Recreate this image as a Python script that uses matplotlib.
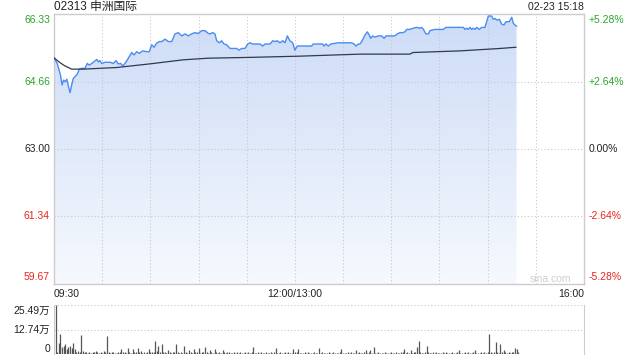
import matplotlib.pyplot as plt
import numpy as np
from matplotlib.colors import LinearSegmentedColormap

plt.rcParams['font.family'] = ['Liberation Sans', 'Noto Sans CJK SC', 'DejaVu Sans']
plt.rcParams['font.size'] = 7.5

# minutes from 09:30 (lunch break removed), price in HKD
price_min = [0, 2, 4, 5, 6, 7, 8, 9, 10, 11, 12, 13, 14.5, 15.8, 17.2, 19.3, 20.7, 22, 23.5,
             24.9, 26.6, 27.6, 28.6, 29.7, 31.8, 34.9, 36.9, 38.6, 40, 41.5, 42.8, 44.2, 46.3,
             48.4, 49.8, 51.5, 53.1, 55.2, 57.7, 59.3, 60.8, 62.3, 63.9, 65.6, 67.1, 69.1, 71.2,
             73.3, 75.3, 77.4, 79.5, 81.6, 83.6, 85.7, 87.8, 89.8, 92, 94, 96.1, 97.1, 98.8,
             100.2, 101.3, 102.9, 104.4, 105.8, 107.5, 109.6, 113.7, 115.2, 116.9, 118.9, 120.6,
             122, 123.7, 128.3, 129.9, 131.4, 134.5, 136.2, 137.6, 139, 140.7, 142.4, 143.8,
             145.3, 146.9, 148.6, 150, 151.5, 153.2, 160.4, 161.4, 167.3, 168.1, 169.3, 170.8,
             172.3, 177, 185.3, 186.8, 188, 189.5, 190.5, 191.6, 193.6, 195.1, 196.3, 197.2,
             198.4, 199.9, 201.9, 204, 205.5, 206.7, 212.3, 213.7, 215.4, 217.1, 218.5, 219.6,
             221.6, 223.7, 225.8, 227.9, 228.9, 230, 231.6, 233.1, 234.1, 237.2, 242.4, 244,
             254.9, 255.9, 256.9, 257.9, 259, 260, 261, 262.1, 263.1, 264.8, 266.3, 268.3, 269.4,
             270.4, 272.5, 273.5, 274.6, 275.6, 277.3, 278.7, 280.2, 281.4, 283.5, 285, 286, 287, 288]
price = [65.25, 65.11, 64.83, 64.58, 64.70, 64.66, 64.72, 64.54, 64.39, 64.58, 64.74, 64.78,
         64.85, 64.97, 64.99, 64.99, 65.11, 65.07, 65.11, 65.15, 65.21, 65.15, 65.18, 65.11,
         65.14, 65.14, 65.11, 65.18, 65.10, 65.11, 65.05, 65.11, 65.24, 65.38, 65.32, 65.40,
         65.36, 65.42, 65.40, 65.40, 65.57, 65.51, 65.61, 65.65, 65.65, 65.71, 65.65, 65.65,
         65.84, 65.87, 65.79, 65.84, 65.79, 65.84, 65.87, 65.85, 65.92, 65.92, 65.85, 65.84,
         65.87, 65.84, 65.67, 65.62, 65.67, 65.59, 65.57, 65.48, 65.48, 65.44, 65.48, 65.48,
         65.59, 65.62, 65.59, 65.59, 65.54, 65.59, 65.59, 65.67, 65.65, 65.67, 65.62, 65.67,
         65.62, 65.79, 65.67, 65.62, 65.44, 65.54, 65.54, 65.54, 65.59, 65.59, 65.54, 65.59,
         65.54, 65.59, 65.62, 65.62, 65.59, 65.54, 65.59, 65.59, 65.65, 65.81, 65.89, 65.81,
         65.73, 65.79, 65.76, 65.79, 65.79, 65.73, 65.79, 65.79, 65.84, 65.87, 65.87, 65.89,
         65.95, 65.95, 65.98, 66.00, 65.98, 66.00, 65.95, 65.84, 65.84, 65.92, 65.95, 65.95,
         66.00, 66.00, 65.95, 65.98, 65.95, 66.00, 65.95, 65.98, 65.95, 66.00, 65.95, 66.00,
         66.00, 66.14, 66.28, 66.28, 66.20, 66.22, 66.18, 66.20, 66.08, 66.06, 66.14, 66.14,
         66.25, 66.10, 66.06, 66.03]

avg_min = [0, 3.7, 6.8, 11, 18.2, 39, 59.8, 80.5, 96, 122, 153, 190.5, 221.6, 223.5, 252.8,
           269.4, 277.7, 287.6]
avg = [65.25, 65.13, 65.05, 64.97, 64.97, 65.01, 65.10, 65.20, 65.24, 65.26, 65.29, 65.34,
       65.34, 65.38, 65.42, 65.46, 65.48, 65.51]

# volume per minute, unit: 万
volume = [25.49, 1.2, 5.7, 10.2, 3.9, 4.4, 5.0, 2.7, 3.5, 4.4, 3.2, 5.7, 2.7, 1.1, 1.4, 0.8, 9.7, 1.6, 0.9, 1.2,
          0.7, 1.0, 0.6, 1.3, 0.8, 1.5, 0.9, 0.7, 1.1, 0.6, 1.4, 0.8, 9.2, 0.9, 0.5, 0.8, 1.2, 0.7, 0.6, 1.0,
          0.8, 2.7, 0.9, 1.3, 0.7, 3.0, 1.0, 0.6, 2.7, 1.1, 0.8, 3.2, 0.9, 1.4, 0.7, 1.0, 0.6, 1.2, 2.7, 0.9,
          1.3, 0.8, 6.9, 1.5, 4.4, 1.0, 5.0, 0.8, 1.2, 0.7, 2.0, 0.9, 0.6, 1.1, 0.8, 5.3, 1.0, 0.7, 1.3, 0.6,
          4.4, 0.9, 0.7, 2.3, 1.0, 0.6, 2.7, 0.8, 1.1, 3.2, 0.7, 0.9, 1.2, 3.9, 0.8, 0.6, 2.3, 1.0, 0.7, 2.7,
          0.8, 0.6, 1.1, 0.7, 2.0, 0.9, 0.5, 0.8, 1.0, 0.6, 0.7, 0.9, 0.5, 1.2, 0.6, 0.8, 0.7, 0.5, 0.9, 0.6,
          0.8, 0.5, 1.0, 3.9, 0.7, 0.6, 0.9, 0.5, 0.8, 0.6, 0.7, 1.1, 0.5, 0.6, 0.8, 0.7, 0.9, 3.2, 0.6, 0.5,
          0.8, 0.7, 0.6, 0.9, 0.5, 1.0, 0.7, 0.6, 2.7, 0.8, 0.9, 2.7, 0.6, 0.7, 0.5, 0.8, 0.6, 1.0, 0.7, 0.5,
          0.6, 0.8, 0.5, 0.7, 3.2, 0.6, 0.9, 0.5, 0.7, 0.6, 0.8, 0.5, 0.6, 0.9, 0.7, 0.5, 0.6, 0.8, 2.7, 0.6,
          0.7, 0.5, 0.9, 0.6, 0.8, 0.5, 0.7, 2.3, 0.6, 0.9, 0.5, 0.7, 1.0, 2.0, 0.6, 0.8, 2.3, 0.7, 3.9, 0.6,
          0.5, 0.8, 0.6, 0.7, 0.5, 0.9, 0.6, 0.7, 0.5, 0.8, 0.6, 0.7, 0.9, 0.5, 0.6, 0.8, 1.1, 2.7, 0.6, 0.8,
          0.7, 2.0, 0.6, 0.9, 1.2, 3.5, 6.7, 0.9, 0.7, 0.6, 1.0, 4.4, 0.8, 0.6, 0.7, 0.9, 0.5, 0.8, 0.6, 0.7,
          0.5, 0.8, 0.6, 0.9, 0.7, 0.5, 0.6, 0.8, 0.7, 0.5, 0.9, 2.3, 0.6, 0.7, 0.5, 0.8, 0.6, 0.9, 0.7, 0.6,
          0.8, 2.3, 0.6, 0.7, 0.5, 0.9, 0.6, 0.8, 0.7, 1.2, 10.3, 0.9, 0.7, 1.0, 6.2, 0.8, 0.6, 5.3, 0.9, 2.0,
          0.8, 0.7, 1.0, 0.6, 0.9, 0.8, 3.2, 2.7, 1.0]

prev_close = 63.00
price_ticks = [66.33, 64.66, 63.00, 61.34, 59.67]
pct_labels = ['+5.28%', '+2.64%', '0.00%', '-2.64%', '-5.28%']
vol_ticks = [0, 12.74, 25.49]
vol_labels = ['0', '12.74万', '25.49万']

green = '#2aa52a'
red = '#e8261e'
grid_c = '#c8c8c8'
spine_c = '#cccccc'

fig = plt.figure(figsize=(6.4, 3.6), dpi=100)
ax = fig.add_axes([54/640, 76/360, 530/640, 270/360])
axv = fig.add_axes([54/640, 6/360, 530/640, 49/360])

ax.set_xlim(0, 330)
ax.set_ylim(price_ticks[-1], price_ticks[0])

# gradient fill under price line
cmap = LinearSegmentedColormap.from_list('f', ['#cddcf7', '#f6f9fe'])
grad = np.linspace(0, 1, 256).reshape(-1, 1)
img = ax.imshow(grad, cmap=cmap, aspect='auto', extent=[0, 330, price_ticks[-1], max(price)],
                origin='upper', zorder=1)
poly = ax.fill_between(price_min, price, price_ticks[-1], color='none', lw=0)
img.set_clip_path(poly.get_paths()[0], ax.transData)

ax.plot(price_min, price, color='#4b8cf0', lw=1.0, zorder=3)
ax.plot(avg_min, avg, color='#2f3a4c', lw=0.9, zorder=3)

for m in range(30, 330, 30):
    ax.axvline(m, color=grid_c, lw=0.8, ls=(0, (1, 2)), zorder=2)
for v in price_ticks[1:-1]:
    ax.axhline(v, color=grid_c, lw=0.8, ls=(0, (1, 2)), zorder=2)

for s in ax.spines.values():
    s.set_color(spine_c)
    s.set_linewidth(1)
ax.set_xticks([])
ax.set_yticks([])

# y labels on both sides
offsets = [-6, 0, 0, 0, 7]
for v, p, off in zip(price_ticks, pct_labels, offsets):
    c = green if v > prev_close else (red if v < prev_close else '#222222')
    ax.annotate('%.2f' % v, xy=(0, v), xytext=(-4, off), textcoords='offset pixels',
                ha='right', va='center', color=c)
    ax.annotate(p, xy=(330, v), xytext=(5, off), textcoords='offset pixels',
                ha='left', va='center', color=c)

fig.text(54/640, 1 - 7/360, '02313 申洲国际', ha='left', va='center', fontsize=8.5, color='#222222')
fig.text(584/640, 1 - 7/360, '02-23 15:18', ha='right', va='center', fontsize=7.5, color='#222222')

fig.text(54/640, 1 - 294/360, '09:30', ha='left', va='center', color='#222222')
fig.text(295/640, 1 - 294/360, '12:00/13:00', ha='center', va='center', color='#222222')
fig.text(584/640, 1 - 294/360, '16:00', ha='right', va='center', color='#222222')
ax.text(322, price_ticks[-1], 'sina.com', ha='right', va='bottom', color='#cfcfcf', fontsize=7.5)

# volume panel
axv.set_xlim(0, 330)
axv.set_ylim(0, vol_ticks[-1])
axv.vlines(np.arange(len(volume)) + 1, 0, volume, color='#555555', lw=0.9, zorder=3)
for v in vol_ticks[1:]:
    axv.axhline(v, color=grid_c, lw=0.8, ls=(0, (1, 2)), zorder=2)
for k, s in axv.spines.items():
    s.set_visible(k == 'right' or k == 'left')
    s.set_color(spine_c)
axv.set_xticks([])
axv.set_yticks([])
voffs = [5, 0, -6]
for v, lab, off in zip(vol_ticks, vol_labels, voffs):
    axv.annotate(lab, xy=(0, v), xytext=(-4, off), textcoords='offset pixels',
                 ha='right', va='center', color='#222222')

fig.savefig('out.png', dpi=100)
